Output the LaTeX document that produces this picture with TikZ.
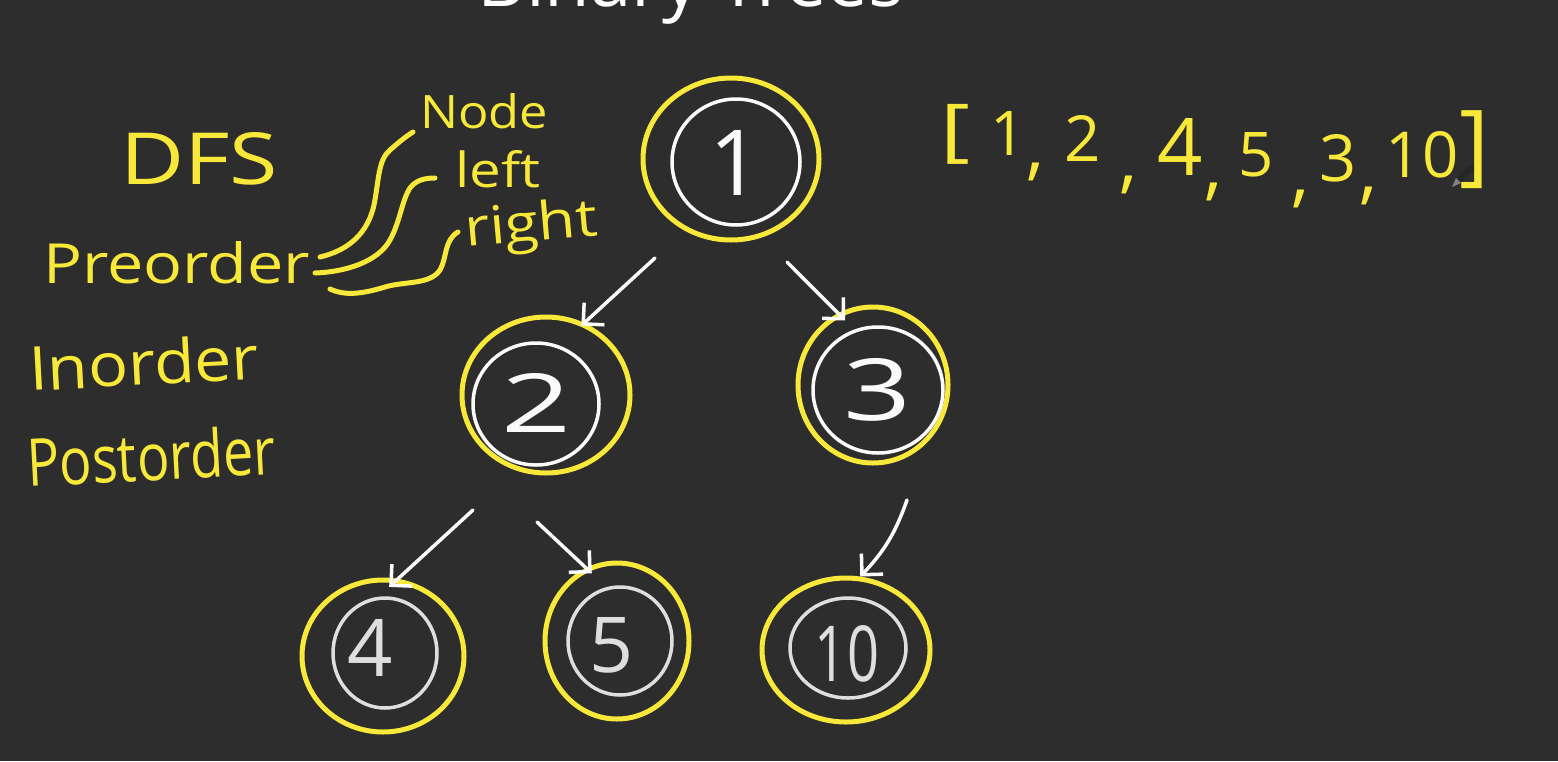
\documentclass[tikz,border=0pt]{standalone}
\usepackage{fontspec}
\setmainfont{Open Sans}
\usetikzlibrary{arrows.meta,shapes.geometric}
\definecolor{bg}{RGB}{45,45,45}
\definecolor{hy}{RGB}{247,232,58}
\definecolor{chalk}{RGB}{250,250,250}
\definecolor{chalkb}{RGB}{222,222,222}
\newcommand\hwtext[3]{\resizebox{#1pt}{#2pt}{#3}}
\newcommand\hwtot[3]{\resizebox*{#1pt}{#2pt}{#3}}
\newcommand\hwdig[2]{\resizebox{!}{#1pt}{#2}}
\newcommand\hwcom[1]{\resizebox*{!}{#1pt}{,}}
\begin{document}
\begin{tikzpicture}[x=1pt,y=1pt,
  ring/.style={ellipse, draw=hy, line width=5pt, inner sep=0pt},
  hole/.style={ellipse, draw=#1, line width=3.5pt, inner sep=0pt},
  digit/.style={text=#1, inner sep=0pt},
  word/.style={text=hy, inner sep=0pt, anchor=base west},
  arrchar/.style={text=hy, inner sep=0pt},
  arr/.style={draw=chalk, line width=3.5pt, line cap=round,
    -{Straight Barb[length=15pt,width=30pt]}},
  curl/.style={draw=hy, line width=5pt, line cap=round}]
\useasboundingbox (0,0) rectangle (1558,-761);
\clip (0,0) rectangle (1558,-761);
\fill[bg] (0,0) rectangle (1558,-761);

% title (cut off at the top)
\node[anchor=base, text=white, inner sep=0pt] (title) at (691,-6)
  {\resizebox{426pt}{!}{Binary Trees}};

% left column of words
\node[word] (dfs) at (120,-184) {\hwtext{158}{52}{DFS}};
\node[word] (pre) at (43,-283) {\hwtext{267}{42}{Preorder}};
\node[word, rotate=3] (ino) at (30,-391) {\hwtext{230}{46}{Inorder}};
\node[word, rotate=3] (post) at (28,-487) {\hwtext{249}{50}{Postorder}};
\node[word] (nN) at (420,-128) {\hwtext{128}{35}{Node}};
\node[word] (nL) at (455,-187) {\hwtext{85}{37}{left}};
\node[word, rotate=5] (nR) at (466,-247) {\hwtext{133}{40}{right}};

% curly connectors
\coordinate (p1) at (320,-257); \coordinate (q1) at (413,-132);
\coordinate (p2) at (315,-273); \coordinate (q2) at (435,-178);
\coordinate (p3) at (330,-289); \coordinate (q3) at (458,-232);
\draw[curl] (p1) .. controls (350,-250) and (368,-232) .. (374,-205)
  .. controls (379,-180) and (378,-160) .. (390,-150)
  .. controls (398,-143) and (405,-137) .. (q1);
\draw[curl] (p2) .. controls (345,-272) and (378,-262) .. (390,-240)
  .. controls (400,-222) and (402,-200) .. (410,-188)
  .. controls (416,-180) and (425,-178) .. (q2);
\draw[curl] (p3) .. controls (345,-296) and (362,-294) .. (385,-287)
  .. controls (405,-281) and (430,-285) .. (440,-270)
  .. controls (447,-258) and (444,-240) .. (q3);

% array
\node[arrchar] (lb) at (955,-134) {\hwtot{30}{60}{[}};
\node[arrchar] (a1) at (1008,-133) {\hwdig{44}{1}};
\node[arrchar] (c1) at (1035,-172) {\hwcom{18}};
\node[arrchar] (a2) at (1083,-138) {\hwdig{46}{2}};
\node[arrchar] (c2) at (1128,-185) {\hwcom{18}};
\node[arrchar] (a3) at (1180,-147) {\hwdig{57}{4}};
\node[arrchar] (c3) at (1213,-192) {\hwcom{18}};
\node[arrchar] (a4) at (1256,-155) {\hwdig{44}{5}};
\node[arrchar] (c4) at (1300,-199) {\hwcom{18}};
\node[arrchar] (a5) at (1338,-158) {\hwdig{47}{3}};
\node[arrchar] (c5) at (1368,-196) {\hwcom{18}};
\node[arrchar] (a6) at (1422,-155) {\hwdig{46}{10}};
\node[arrchar] (rb) at (1474,-150) {\hwtot{30}{78}{]}};
% pencil cursor
\draw[line width=6pt, black!85, line cap=round] (1458,-180) -- (1471,-168);
\fill[gray] (1452,-187) -- (1456,-178) -- (1461,-183) -- cycle;

% tree
\node[ring, minimum width=176pt, minimum height=162pt] (n1) at (731,-159) {};
\node[hole=chalk, minimum width=128pt, minimum height=126pt] (n1i) at (736,-162) {};
\node[digit=chalk] (d1) at (736,-163) {\hwdig{65}{1}};

\node[ring, minimum width=168pt, minimum height=156pt] (n2) at (546,-395) {};
\node[hole=chalk, minimum width=126pt, minimum height=122pt] (n2i) at (536,-404) {};
\node[digit=chalk] (d2) at (537,-403) {\hwtext{70}{59}{2}};

\node[ring, minimum width=150pt, minimum height=156pt] (n3) at (873,-385) {};
\node[hole=chalk, minimum width=130pt, minimum height=126pt] (n3i) at (878,-390) {};
\node[digit=chalk] (d3) at (878,-390) {\hwtext{68}{62}{3}};

\node[ring, minimum width=162pt, minimum height=152pt] (n4) at (383,-656) {};
\node[hole=chalkb, minimum width=104pt, minimum height=110pt] (n4i) at (385,-653) {};
\node[digit=chalkb] (d4) at (370,-648) {\hwdig{57}{4}};

\node[ring, minimum width=144pt, minimum height=156pt] (n5) at (617,-641) {};
\node[hole=chalkb, minimum width=104pt, minimum height=108pt] (n5i) at (620,-641) {};
\node[digit=chalkb] (d5) at (612,-645) {\hwdig{55}{5}};

\node[ring, minimum width=168pt, minimum height=144pt] (n10) at (846,-650) {};
\node[hole=chalkb, minimum width=116pt, minimum height=100pt] (n10i) at (848,-648) {};
\node[digit=chalkb] (d10) at (847,-654) {\hwtext{64}{56}{10}};

% arrows
\coordinate (s12) at (655,-258);
\coordinate (s13) at (787,-262);
\coordinate (s24) at (473,-510);
\coordinate (s25) at (537,-522);
\coordinate (s310) at (907,-500);
\draw[arr, shorten >=-4pt] (s12) -- (n2.62);
\draw[arr, shorten >=-10pt] (s13) -- (n3.116);
\draw[arr, shorten >=-12pt] (s24) -- (n4.79);
\draw[arr, shorten >=-8pt] (s25) -- (n5.113);
\draw[arr] (s310) to[bend left=12] (n10.79);
\end{tikzpicture}
\end{document}
